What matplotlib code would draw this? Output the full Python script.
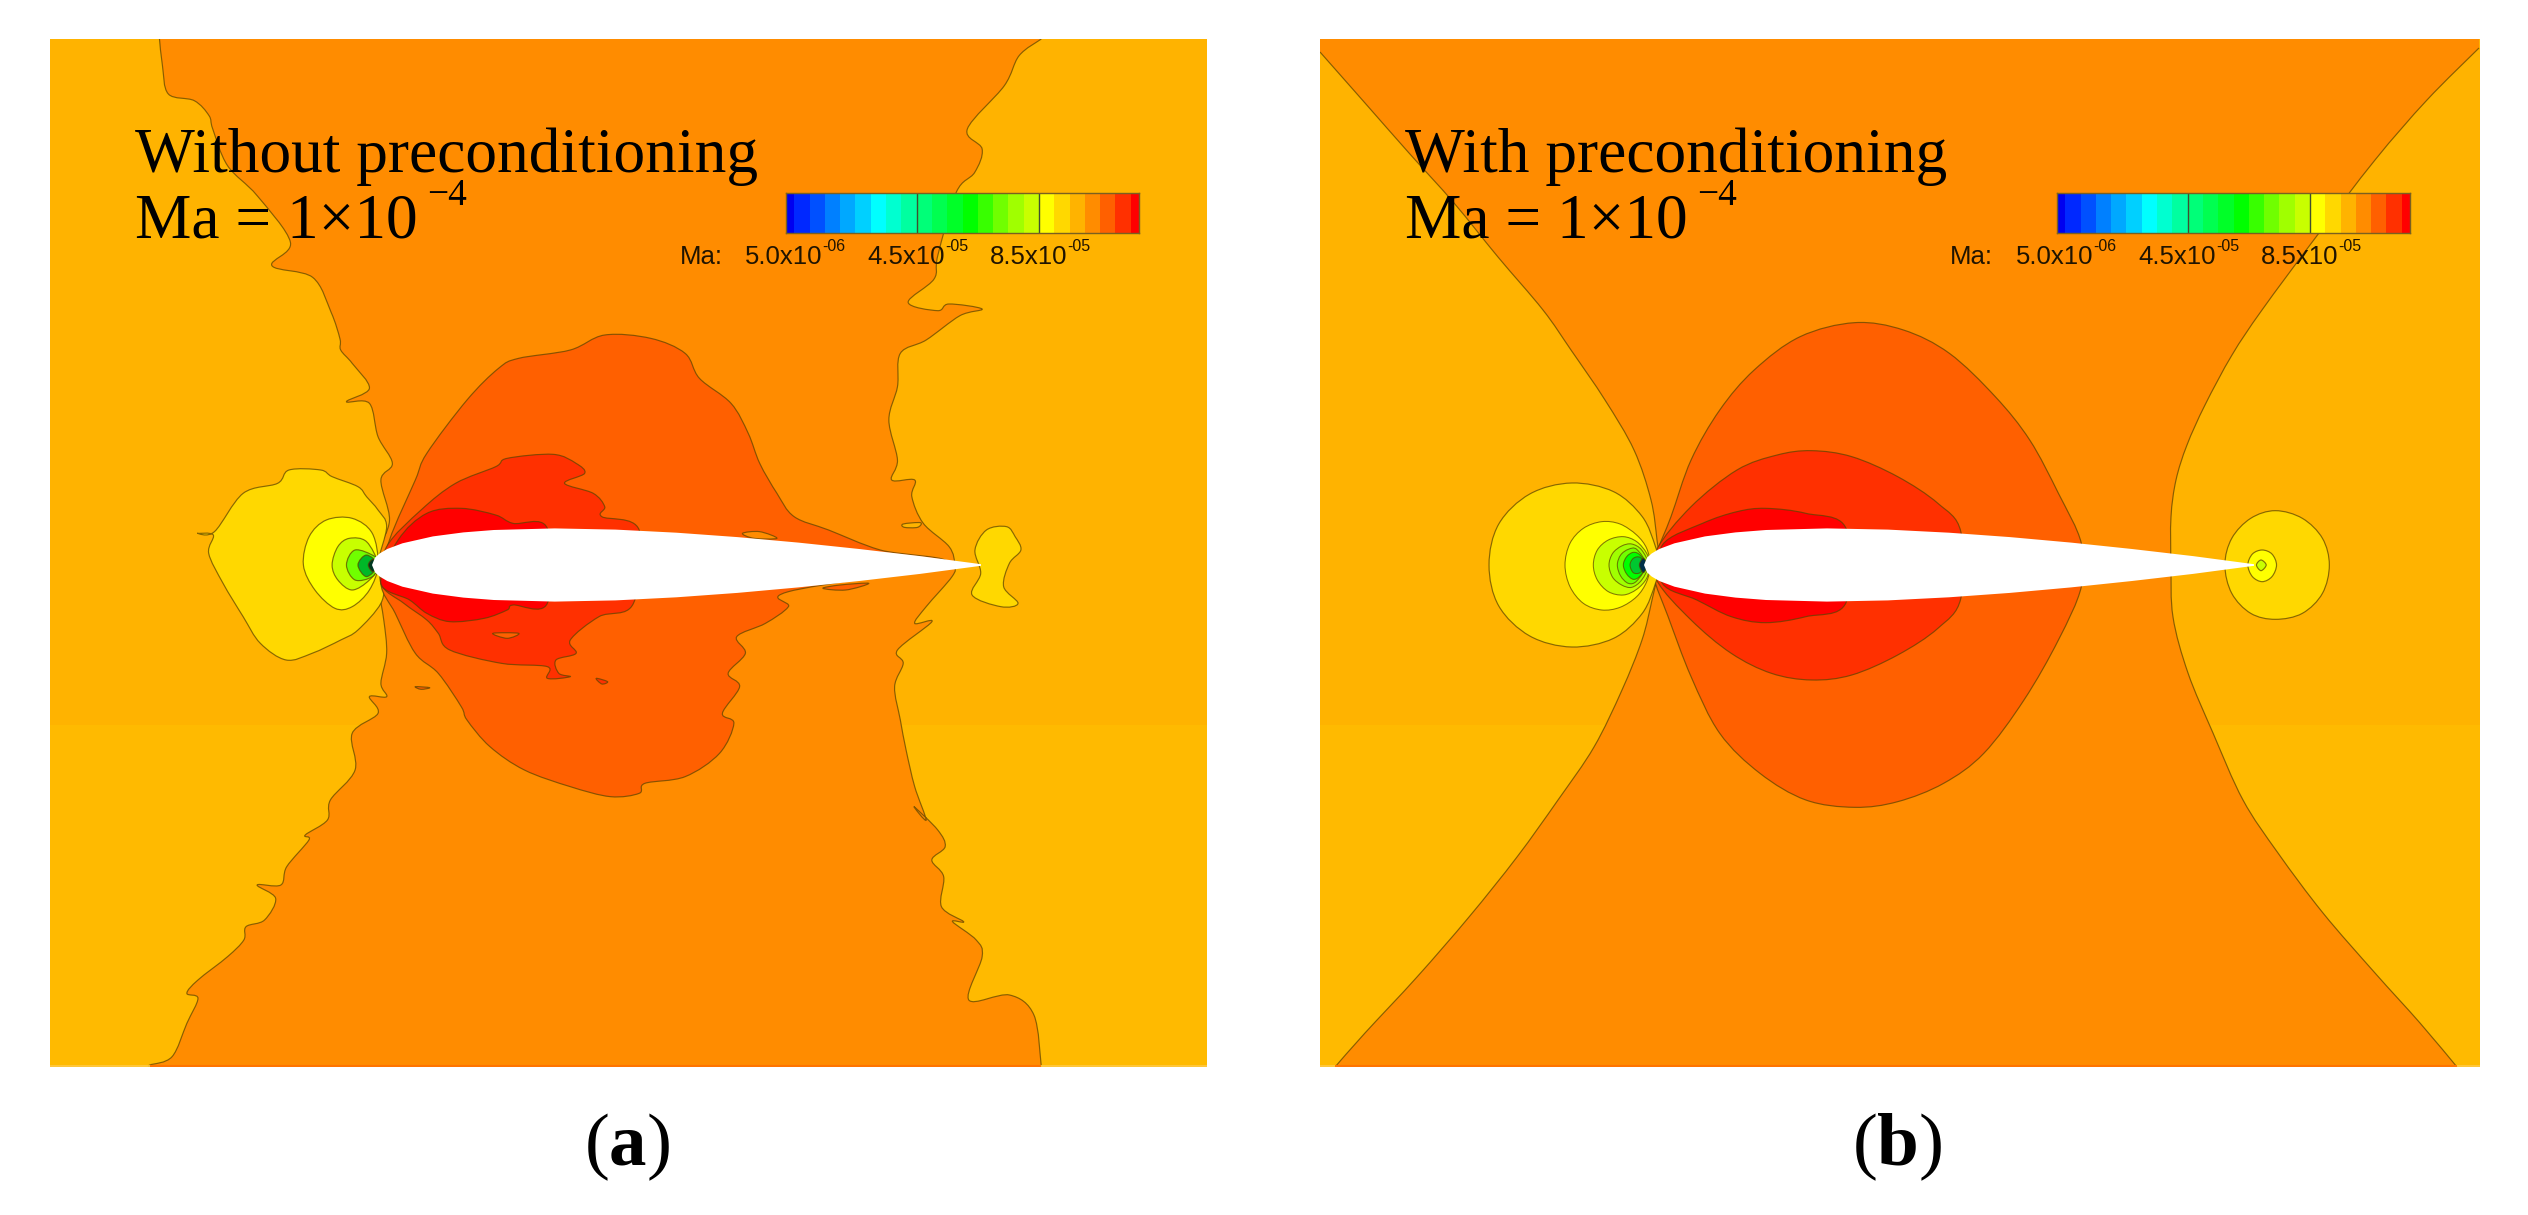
import numpy as np
import matplotlib
matplotlib.use("Agg")
import matplotlib.pyplot as plt
from matplotlib.path import Path
from matplotlib.patches import PathPatch
from matplotlib.colors import ListedColormap, BoundaryNorm, to_rgba

plt.rcParams['mathtext.fontset'] = 'custom'
plt.rcParams['mathtext.rm'] = 'Liberation Serif'
plt.rcParams['mathtext.bf'] = 'Liberation Serif:bold'

# ---- colour scale (Mach number contour levels) ----
ma_edges = [2.3e-6, 5e-6, 10e-6, 15e-6, 20e-6, 25e-6, 30e-6, 35e-6, 40e-6, 45e-6, 50e-6, 55e-6, 60e-6,
            65e-6, 70e-6, 75e-6, 80e-6, 85e-6, 90e-6, 95e-6, 100e-6, 105e-6, 110e-6, 115e-6, 117.7e-6]
ma_colors = ['#0000F0', '#0028FF', '#0050FF', '#0080FF', '#00A8FF', '#00D0FF', '#00FFFF', '#00FFD0',
             '#00FFA0', '#00FF78', '#00FF50', '#00FF28', '#00FF00', '#38FF00', '#70FF00', '#A0FF00',
             '#C8FF00', '#FFFF00', '#FFD800', '#FFB300', '#FF8C00', '#FF6000', '#FF3000', '#FF0000']
ma_ticks = [5e-6, 45e-6, 85e-6]
ma_tick_main = ['5.0x10', '4.5x10', '8.5x10']
ma_tick_exp = ['-06', '-05', '-05']

titles = ['Without preconditioning', 'With preconditioning']
ma_line = 'Ma = 1×10'
ma_exp = '−4'
captions = ['($\\mathbf{a}$)', '($\\mathbf{b}$)']

# ---- airfoil outline ----
airfoil_frac = [0, .005, .0125, .025, .05, .1, .15, .2, .3, .4, .5, .6, .7, .8, .9, 1]
airfoil_half = [0, 7.4, 11.5, 16, 21.7, 28.6, 32.6, 35, 36.6, 35.4, 32.3, 27.9, 22.4, 16, 8.9, .8]

# ---- panel (b): contour outlines, picture pixels ----
b_mid_left = [(1320, 52), (1365, 103), (1409, 153), (1454, 203), (1498, 257), (1543, 310), (1571, 350),
              (1605, 400), (1634, 450), (1651, 500), (1657, 540), (1659, 565), (1652, 600), (1642, 640), (1622, 690),
              (1594, 747), (1558, 800), (1517, 857), (1469, 917), (1417, 977), (1365, 1033), (1335, 1067)]
b_mid_right = [(2457, 1067), (2420, 1023), (2375, 973), (2323, 913), (2278, 853), (2243, 800), (2213, 733), (2188, 673),
               (2173, 617), (2171, 565), (2171, 517), (2176, 480), (2187, 445), (2205, 405), (2232, 355), (2262, 310),
               (2316, 237), (2375, 160), (2427, 100), (2479, 48)]

# the rest of panel (b): crop units of the close-up view
b_110 = [(360, 760), (385, 650), (420, 480), (470, 330), (530, 210), (610, 110), (705, 68), (790, 90), (870, 160),
         (950, 290), (1010, 420), (1060, 580), (1100, 730), (1100, 860), (1060, 1020), (1000, 1200), (930, 1360),
         (860, 1450), (780, 1505), (705, 1522), (620, 1500), (540, 1420), (470, 1300), (420, 1130), (380, 950), (355, 830)]
b_115 = [(360, 750), (420, 620), (500, 510), (570, 465), (630, 452), (700, 470), (780, 530), (850, 610), (890, 695),
         (890, 895), (850, 985), (780, 1065), (700, 1125), (630, 1140), (560, 1120), (490, 1060), (420, 960), (360, 840)]
b_120 = [(370, 735), (440, 670), (500, 635), (550, 625), (620, 640), (690, 685), (690, 908), (620, 950), (550, 968),
         (490, 950), (430, 900), (370, 850)]
b_nose_95 = [(68, 795), (85, 672), (139, 582), (212, 549), (285, 575), (335, 650), (358, 740), (365, 795),
             (358, 850), (335, 940), (285, 1015), (212, 1041), (139, 1008), (85, 918)]
b_tail_95 = [(1350, 795), (1362, 715), (1395, 655), (1438, 632), (1485, 655), (1520, 715), (1532, 795), (1520, 880),
             (1485, 940), (1438, 958), (1395, 940), (1362, 880)]
b_tail_90 = [(1390, 795), (1398, 762), (1415, 750), (1432, 762), (1440, 795), (1432, 830), (1415, 845), (1398, 830)]
b_tail_85 = [(1405, 795), (1413, 780), (1422, 795), (1413, 812)]
# nose rings: crop units of the tighter close-up
b_ring_90 = [(75, 195), (90, 130), (130, 85), (185, 65), (240, 72), (290, 105), (320, 145), (330, 195), (320, 245),
             (290, 290), (240, 322), (185, 330), (130, 310), (90, 260)]
b_ring_85 = [(160, 195), (172, 150), (205, 120), (250, 110), (290, 125), (320, 160), (328, 195), (320, 235), (290, 268),
             (250, 285), (205, 275), (172, 240)]
b_ring_80 = [(207, 195), (218, 160), (245, 138), (275, 132), (305, 150), (325, 195), (305, 240), (275, 262), (245, 255), (218, 232)]
b_ring_75 = [(232, 195), (242, 165), (265, 148), (290, 148), (318, 195), (290, 243), (265, 250), (242, 228)]
b_ring_65 = [(250, 195), (260, 170), (280, 157), (300, 165), (318, 195), (300, 228), (280, 238), (260, 222)]
b_ring_50 = [(270, 195), (280, 175), (300, 172), (318, 195), (300, 218), (280, 218)]
b_ring_10 = [(298, 195), (310, 175), (322, 195), (310, 218)]

# ---- panel (a): contour outlines, crop units of three close-ups ----
a_left_top = [(148, 0), (152, 80), (160, 165), (195, 185), (215, 230), (220, 270), (240, 380), (280, 470), (325, 610),
              (300, 680), (355, 715), (380, 820), (392, 900)]
a_left_mid = [(280, 90), (300, 130), (330, 205), (290, 245), (330, 250), (345, 350), (370, 430), (350, 480), (365, 600),
              (345, 690), (340, 735), (345, 800), (355, 900), (360, 1000), (350, 1090), (360, 1130), (330, 1130),
              (345, 1180), (300, 1240), (305, 1350), (262, 1440)]
a_left_low = [(375, 120), (345, 165), (350, 180), (320, 260), (312, 315), (280, 315), (305, 355), (290, 420), (265, 440),
              (262, 480), (240, 530), (200, 600), (185, 640), (200, 655), (185, 730), (165, 830), (135, 855), (135, 860)]
a_right_low = [(1340, 860), (1330, 705), (1297, 645), (1242, 660), (1260, 530), (1252, 480), (1220, 425), (1235, 425),
               (1205, 380), (1208, 290), (1192, 240), (1210, 200), (1200, 150), (1168, 80)]
a_right_mid = [(1300, 1500), (1280, 1400), (1265, 1290), (1255, 1200), (1245, 1100), (1260, 1030), (1250, 990), (1310, 905),
               (1280, 910), (1300, 860), (1345, 770), (1350, 735), (1340, 680), (1295, 610), (1275, 530), (1280, 480),
               (1240, 480), (1250, 420), (1235, 300), (1250, 200), (1255, 100), (1300, 60)]
a_right_top = [(1230, 830), (1260, 810), (1215, 795), (1200, 815), (1160, 790), (1195, 720), (1200, 650), (1225, 460),
               (1250, 400), (1260, 330), (1240, 270), (1290, 140), (1310, 50), (1340, 0)]
a_110 = [(365, 660), (410, 480), (430, 400), (500, 240), (555, 145), (590, 115), (680, 90), (740, 45), (820, 55), (880, 100),
         (905, 175), (960, 250), (990, 340), (1010, 430), (1040, 520), (1070, 590), (1130, 630), (1220, 690), (1330, 730),
         (1060, 815), (1060, 860), (1020, 910), (970, 950), (985, 1000), (955, 1060), (975, 1100), (945, 1180), (965, 1210),
         (940, 1300), (880, 1370), (810, 1390), (800, 1420), (750, 1430), (680, 1400), (600, 1350), (540, 1280), (500, 1200),
         (490, 1160), (450, 1060), (410, 1000), (375, 880), (350, 790)]
a_115 = [(360, 680), (420, 570), (480, 490), (550, 440), (570, 415), (650, 403), (690, 430), (705, 460), (670, 490), (720, 520),
         (740, 560), (735, 590), (800, 630), (790, 850), (730, 890), (680, 960), (690, 1000), (655, 1020), (660, 1060), (680, 1070),
         (640, 1075), (640, 1040), (560, 1030), (470, 990), (450, 940), (430, 900), (390, 850), (350, 790)]
a_120 = [(380, 660), (430, 580), (490, 565), (550, 585), (580, 610), (640, 625), (640, 850), (580, 855), (570, 870), (530, 895),
         (470, 905), (430, 880), (400, 840), (350, 790)]
a_nose_95 = [(30, 640), (60, 635), (110, 520), (170, 490), (190, 450), (245, 450), (265, 470), (310, 500), (325, 530), (345, 570),
             (360, 620), (345, 730), (355, 780), (350, 850), (310, 930), (280, 960), (230, 1000), (185, 1020), (140, 970),
             (110, 890), (75, 790), (50, 700), (58, 645)]
a_nose_90 = [(215, 735), (225, 650), (255, 600), (300, 595), (335, 640), (345, 735), (330, 810), (300, 860), (270, 865), (235, 810)]
a_nose_85 = [(265, 735), (275, 680), (295, 655), (325, 665), (345, 735), (330, 780), (300, 810), (275, 780)]
a_nose_70 = [(290, 735), (305, 690), (340, 710), (345, 735), (335, 770), (305, 780)]
a_nose_40 = [(310, 735), (325, 705), (345, 735), (325, 770)]
a_nose_tip = [(328, 735), (336, 718), (345, 735), (336, 755)]
a_tail_95 = [(1385, 690), (1405, 630), (1440, 620), (1455, 650), (1465, 690), (1445, 730), (1435, 800), (1460, 850), (1430, 860),
             (1380, 825), (1395, 760)]
a_patch_105 = [(980, 640), (1010, 635), (1040, 655), (1000, 655)]
a_patch_110 = [(1120, 805), (1160, 810), (1200, 790), (1150, 795)]
a_spot_110 = [(545, 940), (590, 940), (570, 955)]
a_spot_115 = [(725, 1075), (745, 1085), (735, 1092)]
a_spot_100a = [(410, 1100), (435, 1103), (420, 1108)]
a_spot_100b = [(1260, 612), (1290, 608), (1285, 622), (1262, 622)]

# ---- helpers ----
cmap = ListedColormap(ma_colors)
norm = BoundaryNorm(ma_edges, cmap.N)
LINE = to_rgba('#5A4400', 0.72)


def view(points, x0, y0, sx):
    pts = np.asarray(points, float)
    return np.column_stack([x0 + pts[:, 0] * sx, y0 + pts[:, 1] / 3])


def wide_a(points):
    return view(points, 180, 320, 900 / 1568)


def wide_b(points):
    return view(points, 1450, 300, 900 / 1568)


def nose_b(points):
    return view(points, 1540, 500, 1 / 3)


def smooth(pts):
    n = len(pts)
    verts = [pts[0]]
    codes = [Path.MOVETO]
    for i in range(n):
        p0, p1, p2, p3 = pts[i - 1], pts[i], pts[(i + 1) % n], pts[(i + 2) % n]
        verts += [p1 + (p2 - p0) / 6, p2 - (p3 - p1) / 6, p2]
        codes += [Path.CURVE4] * 3
    return Path(verts, codes)


def open_curve(pts):
    pts = np.asarray(pts, float)
    verts, codes = [pts[0]], [Path.MOVETO]
    n = len(pts)
    for i in range(n - 1):
        p0, p1, p2, p3 = pts[max(i - 1, 0)], pts[i], pts[i + 1], pts[min(i + 2, n - 1)]
        verts += [p1 + (p2 - p0) / 6, p2 - (p3 - p1) / 6, p2]
        codes += [Path.CURVE4] * 3
    return np.array(verts), codes


def region(ax, pts, level, lw=0.85, color=None):
    path = smooth(pts)
    fc = color if color is not None else cmap(norm(level))
    ax.add_patch(PathPatch(path, facecolor=fc, edgecolor=LINE, lw=lw, joinstyle='round'))


def middle(ax, left, right, level):
    """Central band: filled between its two side contours, stroked only along the sides."""
    vl, cl = open_curve(left)
    vr, cr = open_curve(right)
    x0, x1 = ax.get_xlim()
    top = 39
    codes = [Path.MOVETO, Path.LINETO] + cl[1:] + [Path.LINETO] + cr[1:] + [Path.LINETO, Path.CLOSEPOLY]
    verts = [(left[0][0], top)] + list(vl) + list(vr) + [(right[-1][0], top), (left[0][0], top)]
    ax.add_patch(PathPatch(Path(verts, codes), facecolor=cmap(norm(level)), edgecolor='none', lw=0))
    ax.add_patch(PathPatch(Path(vl, cl), facecolor='none', edgecolor=LINE, lw=0.85))
    ax.add_patch(PathPatch(Path(vr, cr), facecolor='none', edgecolor=LINE, lw=0.85))
    # soft bottom row of the picture
    ax.plot([x0, x1], [1066, 1066], color='#FFC840', lw=1.3, solid_capstyle='butt', zorder=2)
    ax.plot([left[-1][0], right[0][0]], [1065.5, 1065.5], color='#FF7400', lw=1.5, solid_capstyle='butt', zorder=2)


def panel(x0, x1):
    ax = fig.add_axes([x0 / 2528, 1 - 1067 / 1215, (x1 - x0) / 2528, (1067 - 39) / 1215])
    ax.set_xlim(x0, x1)
    ax.set_ylim(1067, 39)
    ax.axis('off')
    ax.axhspan(39, 725, color='#FFB300', lw=0)
    ax.axhspan(725, 1067, color='#FFBA00', lw=0)
    return ax


def airfoil(ax, le, te):
    xs = le + np.array(airfoil_frac) * (te - le)
    hs = np.array(airfoil_half)
    ax.fill(np.r_[xs, xs[::-1]], np.r_[565 - hs, 565 + hs[::-1]], color='white', lw=0, zorder=5)


def legend(left, txt_x, title_idx):
    cb = fig.add_axes([left / 2528, 1 - 233 / 1215, 353 / 2528, 40 / 1215])
    cb.pcolormesh(ma_edges, [0, 1], [[(a + b) / 2 for a, b in zip(ma_edges[:-1], ma_edges[1:])]], cmap=cmap, norm=norm)
    cb.set_xlim(ma_edges[0], ma_edges[-1])
    cb.set_xticks([])
    cb.set_yticks([])
    for s in cb.spines.values():
        s.set_color('#7A6020')
        s.set_linewidth(1.0)
    for t in ma_ticks[1:]:
        cb.axvline(t, color='#405030', lw=1.0)
    for t, m, e in zip(ma_ticks, ma_tick_main, ma_tick_exp):
        cb.annotate(m, xy=(t, 0), xycoords=('data', 'axes fraction'), xytext=(20.5, -22.3), textcoords='offset points',
                    ha='right', va='baseline', fontsize=18.5, family='Liberation Sans', color='#201400', annotation_clip=False)
        cb.annotate(e, xy=(t, 0), xycoords=('data', 'axes fraction'), xytext=(20.5, -13), textcoords='offset points',
                    ha='left', va='baseline', fontsize=11.5, family='Liberation Sans', color='#201400', annotation_clip=False)
    fig.text(txt_x / 2528, 1 - 264 / 1215, 'Ma:', fontsize=18.5, family='Liberation Sans', color='#201400', va='baseline')
    tx = 135 if title_idx == 0 else 1405
    fig.text(tx / 2528, 1 - 172 / 1215, titles[title_idx], fontsize=45.6, family='Liberation Serif', color='black', va='baseline')
    fig.text(tx / 2528, 1 - 238 / 1215, ma_line, fontsize=45.6, family='Liberation Serif', color='black', va='baseline')
    fig.text((tx + 292) / 2528, 1 - 205 / 1215, ma_exp, fontsize=27, family='Liberation Serif', color='black', va='baseline')


fig = plt.figure(figsize=(25.28, 12.15), dpi=100, facecolor='white')

# ---- panel (a) ----
ax_a = panel(50, 1207)
a_side_left = np.vstack([view(a_left_top, 50, 39, 1160 / 1568), wide_a(a_left_mid), view(a_left_low, 50, 780, 1160 / 1568)])
a_side_right = np.vstack([view(a_right_low, 50, 780, 1160 / 1568), wide_a(a_right_mid), view(a_right_top, 50, 39, 1160 / 1568)])
middle(ax_a, a_side_left, a_side_right, 102e-6)
for pts, lev, col in [(a_nose_95, 92e-6, None), (a_nose_90, 87e-6, None), (a_nose_85, 82e-6, None), (a_nose_70, 72e-6, None),
                      (a_nose_40, 42e-6, '#00B828'), (a_nose_tip, 12e-6, '#003820'),
                      (a_tail_95, 92e-6, None), (a_110, 107e-6, None), (a_115, 112e-6, None), (a_120, 116e-6, None),
                      (a_patch_105, 102e-6, None), (a_patch_110, 107e-6, None), (a_spot_110, 107e-6, None),
                      (a_spot_115, 112e-6, None), (a_spot_100a, 107e-6, None), (a_spot_100b, 97e-6, None)]:
    region(ax_a, wide_a(pts), lev, color=col)
airfoil(ax_a, 372, 981)
legend(786, 680, 0)

# ---- panel (b) ----
ax_b = panel(1320, 2480)
middle(ax_b, b_mid_left, b_mid_right, 102e-6)
for pts, lev in [(b_110, 107e-6), (b_115, 112e-6), (b_120, 116e-6), (b_nose_95, 92e-6), (b_tail_95, 92e-6),
                 (b_tail_90, 87e-6), (b_tail_85, 82e-6)]:
    region(ax_b, wide_b(pts), lev)
for pts, lev, col in [(b_ring_90, 87e-6, None), (b_ring_85, 82e-6, None), (b_ring_80, 77e-6, None), (b_ring_75, 72e-6, None),
                      (b_ring_65, 62e-6, None), (b_ring_50, 52e-6, '#00C830'), (b_ring_10, 12e-6, '#003048')]:
    region(ax_b, nose_b(pts), lev, lw=0.75, color=col)
airfoil(ax_b, 1644, 2254)
legend(2057, 1950, 1)

# ---- captions ----
for x, c in zip([627, 1897], captions):
    fig.text(x / 2528, 1 - 1165 / 1215, c, fontsize=54, family='Liberation Serif', ha='center', va='baseline', color='black')

fig.savefig('out.png', dpi=100, facecolor='white')
